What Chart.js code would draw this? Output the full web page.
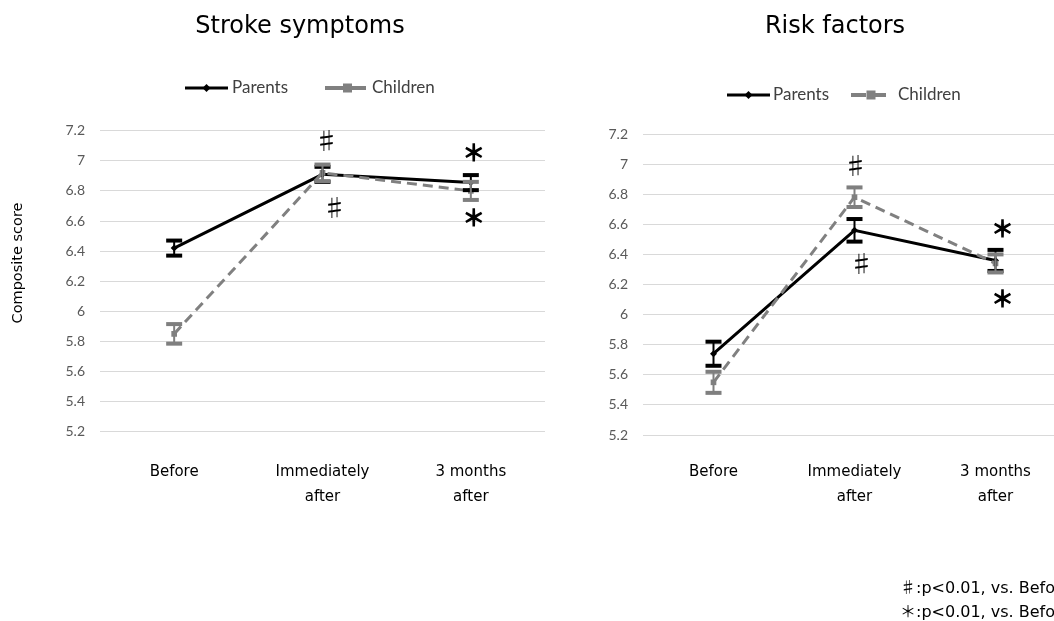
<!DOCTYPE html>
<html>
<head>
<meta charset="utf-8">
<script src="https://cdn.jsdelivr.net/npm/chart.js@4"></script>
<style>
html,body{margin:0;padding:0;width:1054px;height:621px;overflow:hidden;background:#fff;}
#c1{position:absolute;left:0;top:0;}
#c2{position:absolute;left:560px;top:0;}
.note{position:absolute;left:900px;font-family:"DejaVu Sans",sans-serif;font-size:16px;color:#000;white-space:nowrap;}
.sym{font-family:"Noto Sans CJK JP";}
</style>
</head>
<body>
<canvas id="c1" width="560" height="621"></canvas>
<canvas id="c2" width="540" height="621"></canvas>
<div class="note" style="top:574px;"><span class="sym">♯</span>:p&lt;0.01, vs. Before</div>
<div class="note" style="top:598px;"><span class="sym">＊</span>:p&lt;0.01, vs. Before</div>
<script>
// ---- data ----
const categories = ["Before", ["Immediately", "after"], ["3 months", "after"]];
const yTickLabels = ["5.2","5.4","5.6","5.8","6","6.2","6.4","6.6","6.8","7","7.2"];
const seriesNames = ["Parents", "Children"];

// Stroke symptoms
const strokeParents = [6.42, 6.91, 6.855];
const strokeParentsErr = [0.05, 0.05, 0.05];
const strokeChildren = [5.85, 6.92, 6.80];
const strokeChildrenErr = [0.065, 0.055, 0.06];

// Risk factors
const riskParents = [5.74, 6.56, 6.36];
const riskParentsErr = [0.08, 0.075, 0.07];
const riskChildren = [5.55, 6.78, 6.34];
const riskChildrenErr = [0.07, 0.065, 0.06];

// significance marks: [category index, value level, symbol]
const strokeMarks = [[1, 7.13, "♯"], [1, 6.69, "♯"], [2, 7.06, "＊"], [2, 6.63, "＊"]];
const riskMarks = [[1, 6.99, "♯"], [1, 6.34, "♯"], [2, 6.575, "＊"], [2, 6.11, "＊"]];

function makeChart(id, o) {
  const errPlugin = {
    id: 'extras',
    afterDatasetsDraw(chart) {
      const ctx = chart.ctx, xs = chart.scales.x, ys = chart.scales.y;
      const sets = [[o.pv, o.pe, '#000000'], [o.cv, o.ce, '#7f7f7f']];
      sets.forEach(([vals, errs, col]) => {
        vals.forEach((v, i) => {
          const x = xs.getPixelForValue(i);
          const yt = ys.getPixelForValue(v + errs[i]);
          const yb = ys.getPixelForValue(v - errs[i]);
          ctx.save();
          ctx.strokeStyle = col; ctx.fillStyle = col;
          ctx.lineWidth = 2;
          ctx.beginPath(); ctx.moveTo(x, yt); ctx.lineTo(x, yb); ctx.stroke();
          ctx.fillRect(x - 8, yt - 2, 16, 4);
          ctx.fillRect(x - 8, yb - 2, 16, 4);
          ctx.restore();
        });
      });
      ctx.save();
      ctx.fillStyle = '#000'; ctx.strokeStyle = '#000';
      ctx.textAlign = 'center'; ctx.textBaseline = 'middle';
      o.marks.forEach(([ci, lv, sym], k) => {
        const x = xs.getPixelForValue(ci) + o.markDx[k];
        const y = ys.getPixelForValue(lv);
        ctx.font = (sym === "＊" ? '22px' : '24px') + ' "Noto Sans CJK JP"';
        ctx.fillText(sym, x, y);
        if (sym === "＊") { ctx.lineWidth = 1.4; ctx.strokeText(sym, x, y); }
      });
      ctx.restore();
    },
    afterDraw(chart) {
      const ctx = chart.ctx;
      ctx.save();
      ctx.fillStyle = '#000';
      ctx.font = '24px "DejaVu Sans"';
      ctx.textAlign = 'center'; ctx.textBaseline = 'middle';
      ctx.fillText(o.title, o.titleX, 27);
      const L = o.legend, ly = L.y;
      ctx.lineWidth = 3;
      ctx.strokeStyle = '#000';
      ctx.beginPath(); ctx.moveTo(L.p0, ly); ctx.lineTo(L.p1, ly); ctx.stroke();
      const pm = (L.p0 + L.p1) / 2;
      ctx.fillStyle = '#000';
      ctx.beginPath(); ctx.moveTo(pm, ly - 4); ctx.lineTo(pm + 4, ly); ctx.lineTo(pm, ly + 4); ctx.lineTo(pm - 4, ly); ctx.closePath(); ctx.fill();
      ctx.strokeStyle = '#808080';
      ctx.setLineDash([L.dash, 5]);
      ctx.lineWidth = 4;
      ctx.beginPath(); ctx.moveTo(L.c0, ly); ctx.lineTo(L.c1, ly); ctx.stroke();
      ctx.setLineDash([]);
      const cm = (L.c0 + L.c1) / 2;
      ctx.fillStyle = '#808080';
      ctx.fillRect(cm - 4.5, ly - 4.5, 9, 9);
      ctx.fillStyle = '#404040';
      ctx.font = '17px Lato';
      ctx.textAlign = 'left';
      ctx.fillText(seriesNames[0], L.pt, ly);
      ctx.fillText(seriesNames[1], L.ct, ly);
      if (o.yTitle) {
        ctx.save();
        ctx.translate(18, 263);
        ctx.rotate(-Math.PI / 2);
        ctx.fillStyle = '#000';
        ctx.font = '14.5px "DejaVu Sans"';
        ctx.textAlign = 'center';
        ctx.fillText(o.yTitle, 0, 0);
        ctx.restore();
      }
      ctx.restore();
    }
  };

  return new Chart(document.getElementById(id), {
    type: 'line',
    data: {
      labels: categories,
      datasets: [
        { label: seriesNames[0], data: o.pv, borderColor: '#000', backgroundColor: '#000', borderWidth: 3,
          pointStyle: 'rectRot', pointRadius: 3.5, pointBorderWidth: 0, tension: 0, order: 1 },
        { label: seriesNames[1], data: o.cv, borderColor: '#808080', backgroundColor: '#808080', borderWidth: 3,
          borderDash: [10, 6], pointStyle: 'rect', pointRadius: 4, pointBorderWidth: 0, tension: 0, order: 0 }
      ]
    },
    options: {
      responsive: false,
      animation: false,
      layout: { padding: { left: 0, right: o.padRight, top: o.top, bottom: 621 - o.top - 301 - 90 } },
      plugins: { legend: { display: false }, tooltip: { enabled: false } },
      scales: {
        x: {
          offset: true,
          grid: { display: false, drawTicks: false },
          border: { display: false },
          ticks: { color: '#000', font: { family: 'DejaVu Sans', size: 15, lineHeight: 1.65 }, padding: o.xPad, maxRotation: 0 },
          afterFit(s) { s.height = 90; }
        },
        y: {
          min: 5.2, max: 7.2,
          grid: { color: '#d9d9d9', lineWidth: 1, drawTicks: false },
          border: { display: false },
          ticks: { stepSize: 0.2, color: '#595959', font: { family: 'Lato', size: 14 }, padding: 15,
                   callback: (v, i) => yTickLabels[i] },
          afterFit(s) { s.width = o.yWidth; }
        }
      }
    },
    plugins: [errPlugin]
  });
}

makeChart('c1', {
  pv: strokeParents, pe: strokeParentsErr, cv: strokeChildren, ce: strokeChildrenErr,
  marks: strokeMarks, markDx: [4, 12, 3, 3],
  title: 'Stroke symptoms', titleX: 300, top: 130.7, yWidth: 100, padRight: 15, xPad: 28,
  legend: { y: 88, p0: 185, p1: 228, pt: 232, c0: 325, c1: 370, ct: 372, dash: 18 },
  yTitle: 'Composite score'
});
makeChart('c2', {
  pv: riskParents, pe: riskParentsErr, cv: riskChildren, ce: riskChildrenErr,
  marks: riskMarks, markDx: [1, 7, 7, 7],
  title: 'Risk factors', titleX: 275, top: 134, yWidth: 83, padRight: 34, xPad: 25,
  legend: { y: 95, p0: 167, p1: 210, pt: 213, c0: 291, c1: 331, ct: 338, dash: 15 },
  yTitle: null
});
</script>
</body>
</html>
